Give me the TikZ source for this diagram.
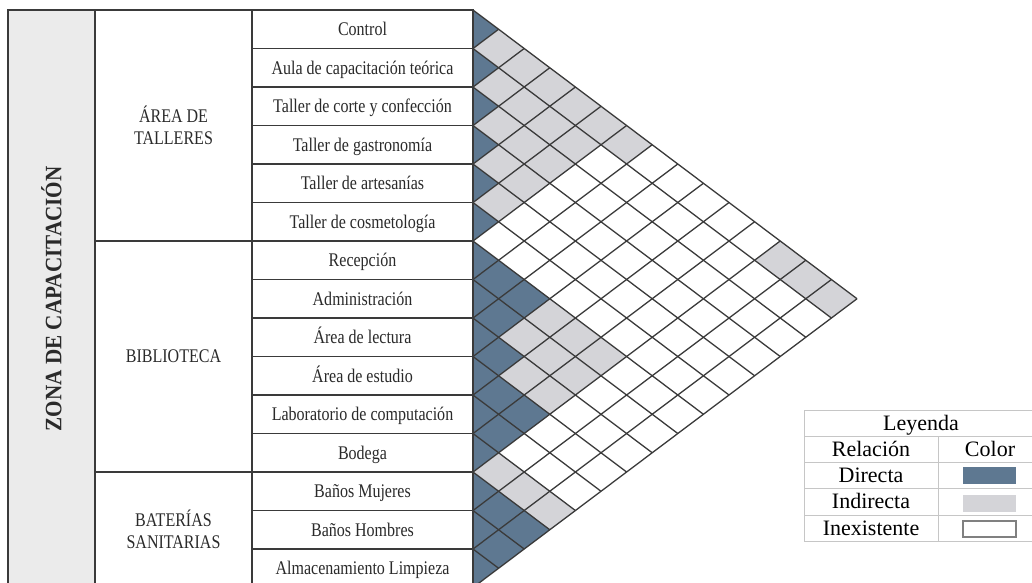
\documentclass[tikz,border=0pt]{standalone}
\usepackage{fontspec}
\setmainfont{Liberation Serif}
\newfontfamily\tablefont[FakeStretch=0.83]{Liberation Serif}
\newfontfamily\zonefont[FakeStretch=0.9]{Liberation Serif}
\usepackage{tikz}
\usetikzlibrary{positioning}
\definecolor{LineDark}{HTML}{3A3A3A}
\definecolor{TextDark}{HTML}{2A2A2A}
\definecolor{DirectBlue}{HTML}{5E7891}
\definecolor{IndirectGray}{HTML}{D4D4D8}
\definecolor{ZoneGray}{HTML}{EBEBEB}
\definecolor{LegendLine}{HTML}{C6C6C6}
\definecolor{SwatchEdge}{HTML}{808080}

\begin{document}
\begin{tikzpicture}[
  x=1pt, y=-1pt,
  box/.style={draw=LineDark, line width=1.5pt, inner sep=0pt, outer sep=0pt, align=center, text=TextDark, font=\tablefont\fontsize{19.3}{22}\selectfont},
  roombox/.style={box, minimum width=221pt, minimum height=38.5pt, text height=12.8pt, text depth=0pt},
  groupbox/.style={box, minimum width=157pt, anchor=north east},
  zonebox/.style={box, fill=ZoneGray, font=\zonefont\bfseries\fontsize{23.5}{26}\selectfont},
  gridline/.style={draw=LineDark, line width=1.3pt},
  legline/.style={draw=LegendLine, line width=0.9pt},
  legtext/.style={inner sep=0pt, text=black, text height=14.5pt, text depth=0pt, font=\fontsize{22}{24}\selectfont},
  swatch/.style={minimum width=53pt, minimum height=17pt, inner sep=0pt}
]
  \useasboundingbox (0,0) rectangle (1032,582);

  % relationship matrix
  \foreach \i in {1,...,15}
    \fill[DirectBlue] (473,{10+38.5*(\i-1)}) -- ++(25.6,19.25) -- ++(-25.6,19.25) -- cycle;
  \foreach \i/\j in {7/8,7/9,8/9,9/10,10/11,10/12,11/12,13/14,13/15,14/15}
    \fill[DirectBlue] ({473+(\j-\i)*25.6},{10+19.25*(\i+\j-1)}) +(-25.6,0) -- +(0,-19.25) -- +(25.6,0) -- +(0,19.25) -- cycle;
  \foreach \i/\j in {1/2,1/3,1/4,1/5,1/6,1/7,2/3,2/4,2/5,2/6,3/4,3/5,3/6,4/5,4/6,5/6,1/13,1/14,1/15,
                     7/10,7/11,7/12,8/10,8/11,8/12,9/11,9/12,12/13,12/14,12/15}
    \fill[IndirectGray] ({473+(\j-\i)*25.6},{10+19.25*(\i+\j-1)}) +(-25.6,0) -- +(0,-19.25) -- +(25.6,0) -- +(0,19.25) -- cycle;
  \foreach \k in {0,...,15} {
    \draw[gridline] (473,{10+38.5*\k}) -- ++({(15-\k)*25.6},{(15-\k)*19.25});
    \draw[gridline] (473,{10+38.5*\k}) -- ++({\k*25.6},{-\k*19.25});
  }

  % table
  \node[zonebox, rotate=90, minimum width=577.5pt, minimum height=87pt] (zone) at (51.5,298.75) {ZONA DE CAPACITACIÓN};

  \node[roombox] (r1) at (362.5,29.25) {Control};
  \node[roombox, below=0pt of r1] (r2) {Aula de capacitación teórica};
  \node[roombox, below=0pt of r2] (r3) {Taller de corte y confección};
  \node[roombox, below=0pt of r3] (r4) {Taller de gastronomía};
  \node[roombox, below=0pt of r4] (r5) {Taller de artesanías};
  \node[roombox, below=0pt of r5] (r6) {Taller de cosmetología};
  \node[roombox, below=0pt of r6] (r7) {Recepción};
  \node[roombox, below=0pt of r7] (r8) {Administración};
  \node[roombox, below=0pt of r8] (r9) {Área de lectura};
  \node[roombox, below=0pt of r9] (r10) {Área de estudio};
  \node[roombox, below=0pt of r10] (r11) {Laboratorio de computación};
  \node[roombox, below=0pt of r11] (r12) {Bodega};
  \node[roombox, below=0pt of r12] (r13) {Baños Mujeres};
  \node[roombox, below=0pt of r13] (r14) {Baños Hombres};
  \node[roombox, below=0pt of r14] (r15) {Almacenamiento Limpieza};

  \node[groupbox, minimum height=231pt] (g1) at (r1.north west) {ÁREA DE\\TALLERES};
  \node[groupbox, minimum height=231pt] (g2) at (r7.north west) {BIBLIOTECA};
  \node[groupbox, minimum height=115.5pt] (g3) at (r13.north west) {BATERÍAS\\SANITARIAS};

  % legend
  \foreach \y in {410,436,462,488,515,541}
    \draw[legline] (804,\y) -- (1032,\y);
  \draw[legline] (804,410) -- (804,541);
  \draw[legline] (938,436) -- (938,541);
  \node[legtext] (leyenda) at (921,423) {Leyenda};
  \node[legtext] (relacion) at (871,449) {Relación};
  \node[legtext] (colorhead) at (990,449) {Color};
  \node[legtext] (directa) at (871,475) {Directa};
  \node[legtext] (indirecta) at (871,501.5) {Indirecta};
  \node[legtext] (inexistente) at (871,528) {Inexistente};
  \node[swatch, fill=DirectBlue] (swdirecta) at (989.5,475.5) {};
  \node[swatch, fill=IndirectGray] (swindirecta) at (989.5,503) {};
  \node[swatch, draw=SwatchEdge, line width=2pt, fill=white, minimum height=16pt] (swinexistente) at (989.5,529) {};
\end{tikzpicture}
\end{document}
